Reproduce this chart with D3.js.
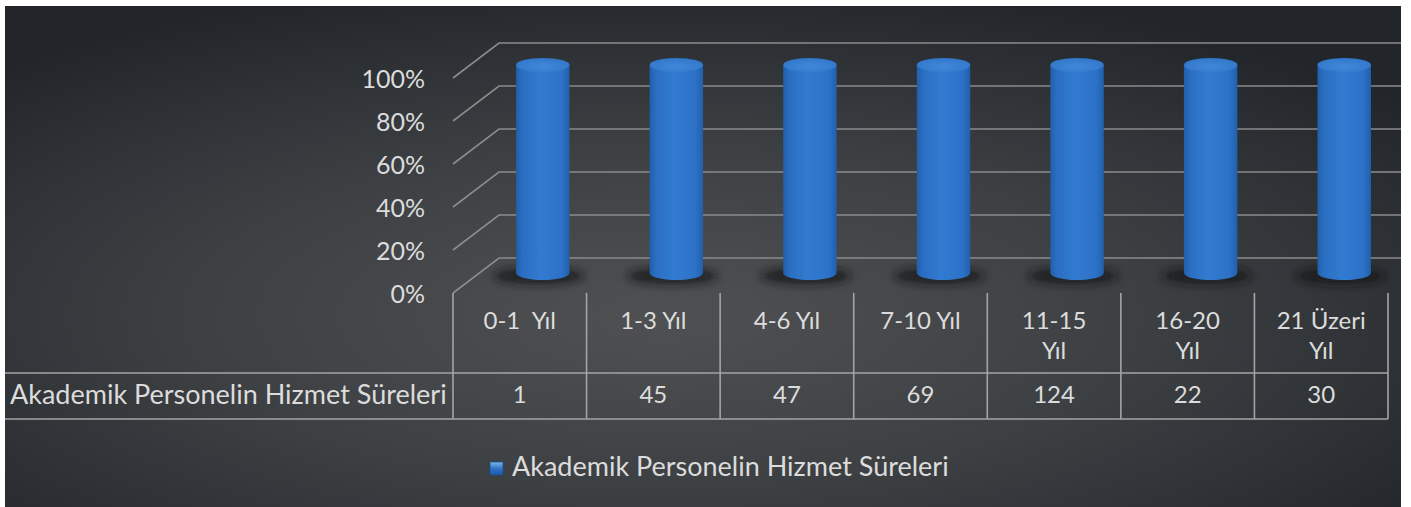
<!DOCTYPE html>
<html>
<head>
<meta charset="utf-8">
<script src="https://cdn.jsdelivr.net/npm/d3@7"></script>
<style>
  html, body { margin: 0; padding: 0; background: #ffffff; }
  svg { display: block; }
  text { font-family: Lato, "Noto Sans", sans-serif; fill: #dcdcdc; }
</style>
</head>
<body>
<svg id="chart" width="1411" height="507"></svg>
<script>
// ---- data ----
const categories = ["0-1  Yıl", "1-3 Yıl", "4-6 Yıl", "7-10 Yıl", "11-15\nYıl", "16-20\nYıl", "21 Üzeri\nYıl"];
const seriesName = "Akademik Personelin Hizmet Süreleri";
const values = [1, 45, 47, 69, 124, 22, 30];
const yTicks = [0, 0.2, 0.4, 0.6, 0.8, 1];
const yTickLabels = ["0%", "20%", "40%", "60%", "80%", "100%"];

// 100% stacked with a single series -> each share is value / category total
const shares = values.map(v => v / v);

const svg = d3.select("#chart");
const defs = svg.append("defs");

// background gradient
const bgGrad = defs.append("radialGradient").attr("id", "bgGrad")
  .attr("cx", 0.47).attr("cy", 0.62).attr("r", 0.68)
  .attr("fx", 0.47).attr("fy", 0.62);
bgGrad.append("stop").attr("offset", 0).attr("stop-color", "#4f5052");
bgGrad.append("stop").attr("offset", 0.5).attr("stop-color", "#3d4043");
bgGrad.append("stop").attr("offset", 1).attr("stop-color", "#22262a");

const cylGrad = defs.append("linearGradient").attr("id", "cylGrad").attr("x1", 0).attr("x2", 1).attr("y1", 0).attr("y2", 0);
cylGrad.append("stop").attr("offset", 0).attr("stop-color", "#215fac");
cylGrad.append("stop").attr("offset", 0.12).attr("stop-color", "#2b6ec2");
cylGrad.append("stop").attr("offset", 0.45).attr("stop-color", "#327bd0");
cylGrad.append("stop").attr("offset", 0.85).attr("stop-color", "#2d72c8");
cylGrad.append("stop").attr("offset", 1).attr("stop-color", "#215fac");

const topGrad = defs.append("radialGradient").attr("id", "topGrad").attr("cx", 0.5).attr("cy", 0.6).attr("r", 0.6);
topGrad.append("stop").attr("offset", 0).attr("stop-color", "#4389d9");
topGrad.append("stop").attr("offset", 1).attr("stop-color", "#3076ca");

const legGrad = defs.append("linearGradient").attr("id", "legGrad").attr("x1", 0).attr("x2", 0).attr("y1", 0).attr("y2", 1);
legGrad.append("stop").attr("offset", 0).attr("stop-color", "#7fb6ee");
legGrad.append("stop").attr("offset", 0.5).attr("stop-color", "#2f74c8");
legGrad.append("stop").attr("offset", 1).attr("stop-color", "#1d5aa6");

defs.append("filter").attr("id", "blur").attr("x", "-50%").attr("y", "-100%").attr("width", "200%").attr("height", "300%")
  .append("feGaussianBlur").attr("stdDeviation", 4);

defs.append("clipPath").attr("id", "bgClip")
  .append("rect").attr("x", 5).attr("y", 6).attr("width", 1396).attr("height", 501);

// background panel
svg.append("rect").attr("x", 5).attr("y", 6).attr("width", 1396).attr("height", 501)
  .attr("fill", "url(#bgGrad)");

const g = svg.append("g").attr("clip-path", "url(#bgClip)");

// ---- scales ----
const x = d3.scaleBand().domain(categories).range([453, 1388]).padding(0);
const y = d3.scaleLinear().domain([0, 1]).range([293, 78]);
const depthX = 46, depthY = -35;
const wallRight = 1401;

// gridlines (floor/side diagonal + back wall)
g.selectAll(".grid").data(yTicks).join("path")
  .attr("class", "grid")
  .attr("d", t => `M${x.range()[0]},${y(t)} L${x.range()[0] + depthX},${y(t) + depthY} L${wallRight},${y(t) + depthY}`)
  .attr("fill", "none").attr("stroke", "#8a8b8c").attr("stroke-width", 1.6);

// y labels
g.selectAll(".ylab").data(yTicks).join("text")
  .attr("class", "ylab")
  .attr("x", 425).attr("y", t => y(t) + 4)
  .attr("text-anchor", "end").attr("dominant-baseline", "middle")
  .style("font-size", "25px")
  .text((t, i) => yTickLabels[i]);

// cylinders
const bw = x.bandwidth();
const rx = bw * 0.2, ry = 7;
const cx = c => x(c) + bw / 2 + depthX / 2;
const topY = (s) => y(s) + depthY + 22;
const botY = y(0) + depthY + 15;

const bars = g.selectAll(".bar").data(categories.map((c, i) => ({ c, s: shares[i] }))).join("g").attr("class", "bar");
bars.append("ellipse")
  .attr("cx", d => cx(d.c) - 4).attr("cy", botY + 3)
  .attr("rx", rx * 1.7).attr("ry", 8)
  .attr("fill", "#141719").attr("opacity", 0.8).attr("filter", "url(#blur)");
bars.append("path")
  .attr("d", d => {
    const c0 = cx(d.c), t = topY(d.s);
    return `M${c0 - rx},${t} L${c0 - rx},${botY} A${rx},${ry} 0 0 0 ${c0 + rx},${botY} L${c0 + rx},${t} Z`;
  })
  .attr("fill", "url(#cylGrad)");
bars.append("ellipse")
  .attr("cx", d => cx(d.c)).attr("cy", d => topY(d.s))
  .attr("rx", rx).attr("ry", ry)
  .attr("fill", "url(#topGrad)");

// ---- data table ----
const tableLeft = 5;
const rowTop = 293, rowMid = 373, rowBot = 419;
const lineCol = "#a3a4a5";
[rowMid, rowBot].forEach(yy => {
  svg.append("line").attr("x1", tableLeft).attr("x2", x.range()[1]).attr("y1", yy).attr("y2", yy)
    .attr("stroke", lineCol).attr("stroke-width", 1.6);
});
const bounds = categories.map(c => x(c)).concat([x.range()[1]]);
svg.selectAll(".vline").data(bounds).join("line")
  .attr("class", "vline")
  .attr("x1", d => d).attr("x2", d => d).attr("y1", rowTop).attr("y2", rowBot)
  .attr("stroke", lineCol).attr("stroke-width", 1.6);

// category labels
const catG = svg.selectAll(".cat").data(categories).join("text")
  .attr("class", "cat")
  .attr("x", c => x(c) + bw / 2).attr("y", 323)
  .attr("text-anchor", "middle").attr("dominant-baseline", "middle")
  .style("font-size", "24px").style("white-space", "pre");
catG.each(function (c) {
  const lines = c.split("\n");
  const t = d3.select(this);
  lines.forEach((ln, i) => {
    t.append("tspan").attr("x", x(c) + bw / 2).attr("y", 323 + i * 30).text(ln);
  });
});

// row label and values
svg.append("text").attr("x", 10).attr("y", 397)
  .attr("dominant-baseline", "middle").style("font-size", "27px").text(seriesName);
svg.selectAll(".val").data(values).join("text")
  .attr("class", "val")
  .attr("x", (v, i) => x(categories[i]) + bw / 2).attr("y", 397)
  .attr("text-anchor", "middle").attr("dominant-baseline", "middle")
  .style("font-size", "24px").text(v => v);

// ---- legend ----
svg.append("rect").attr("x", 490).attr("y", 462).attr("width", 13).attr("height", 13)
  .attr("fill", "url(#legGrad)").attr("stroke", "#1a4f90").attr("stroke-width", 0.8);
svg.append("text").attr("x", 512).attr("y", 469)
  .attr("dominant-baseline", "middle").style("font-size", "27px").text(seriesName);
</script>
</body>
</html>
